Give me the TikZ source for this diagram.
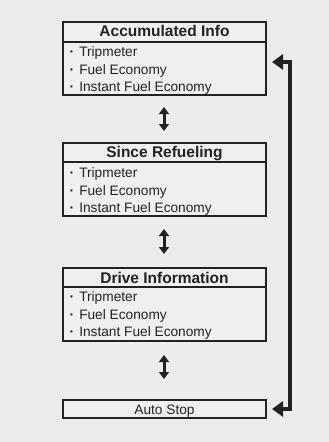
\documentclass[tikz,border=0pt]{standalone}
\usepackage{fontspec}
\setmainfont{Liberation Sans}
\usetikzlibrary{arrows.meta}
\definecolor{bg}{HTML}{ECECEC}
\definecolor{boxfill}{HTML}{EFEFEF}
\definecolor{ink}{HTML}{222222}
\newcommand{\bul}{\textbf{·}\hspace{5pt}}
\begin{document}
\begin{tikzpicture}[x=1pt,y=-1pt,
 box/.style={draw=ink, line width=2pt, fill=boxfill, inner sep=0pt, minimum width=203pt},
 sep/.style={draw=ink, line width=2pt},
 hdr/.style={font=\fontsize{15.5}{18}\selectfont\bfseries, text=ink, anchor=base, inner sep=0pt},
 item/.style={font=\fontsize{13.7}{16}\selectfont, text=ink, anchor=base west, inner sep=0pt},
 dbl/.style={draw=ink, line width=3pt, {Triangle[width=10pt,length=7pt]}-{Triangle[width=10pt,length=7pt]}},
 loopline/.style={draw=ink, line width=4.5pt, {Triangle[width=15pt,length=11pt]}-{Triangle[width=15pt,length=11pt]}}]
\fill[bg] (0,0) rectangle (329,442);
\useasboundingbox (0,0) rectangle (329,442);

% Box 1
\node[box, minimum height=73pt] (acc) at (164.5,58.5) {};
\draw[sep] (acc.west |- 0,42) -- (acc.east |- 0,42);
\node[hdr] (acch) at (164.5,36) {Accumulated Info};
\node[item] (acc1) at (69.5,56) {\bul Tripmeter};
\node[item] (acc2) at (69.5,74) {\bul Fuel Economy};
\node[item] (acc3) at (69.5,91.5) {\bul Instant Fuel Economy};

% Box 2
\node[box, minimum height=73pt] (since) at (164.5,179.5) {};
\draw[sep] (since.west |- 0,162) -- (since.east |- 0,162);
\node[hdr] (sinceh) at (164.5,157.5) {Since Refueling};
\node[item] (since1) at (69.5,177.5) {\bul Tripmeter};
\node[item] (since2) at (69.5,195.5) {\bul Fuel Economy};
\node[item] (since3) at (69.5,212.5) {\bul Instant Fuel Economy};

% Box 3
\node[box, minimum height=73pt] (drive) at (164.5,304.5) {};
\draw[sep] (drive.west |- 0,287) -- (drive.east |- 0,287);
\node[hdr] (driveh) at (164.5,283) {Drive Information};
\node[item] (drive1) at (69.5,301) {\bul Tripmeter};
\node[item] (drive2) at (69.5,319.5) {\bul Fuel Economy};
\node[item] (drive3) at (69.5,336.5) {\bul Instant Fuel Economy};

% Auto Stop
\node[box, minimum height=18pt] (stop) at (164.5,409) {};
\node[font=\fontsize{13.7}{16}\selectfont, text=ink, anchor=base, inner sep=0pt] (stopt) at (164.5,414) {Auto Stop};

% double arrows
\coordinate (d1a) at (164,107);
\coordinate (d1b) at (164,131);
\coordinate (d2a) at (164,229);
\coordinate (d2b) at (164,254);
\coordinate (d3a) at (164,355);
\coordinate (d3b) at (164,379);
\draw[dbl] (d1a) -- (d1b);
\draw[dbl] (d2a) -- (d2b);
\draw[dbl] (d3a) -- (d3b);

% loop
\coordinate (la) at (272,62);
\coordinate (lc1) at (290,62);
\coordinate (lc2) at (290,409);
\coordinate (lb) at (272,409);
\draw[loopline] (la) -- (lc1) -- (lc2) -- (lb);
\end{tikzpicture}
\end{document}
